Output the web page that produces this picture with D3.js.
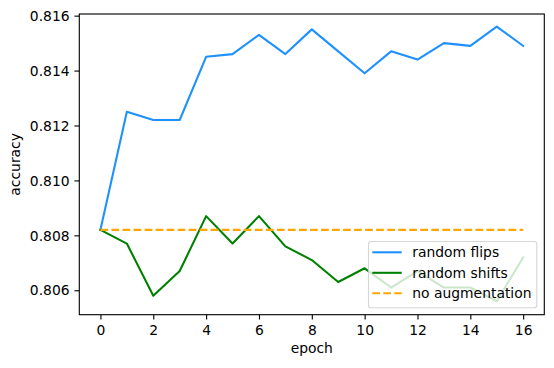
<!DOCTYPE html>
<html>
<head>
<meta charset="utf-8">
<script src="https://cdn.jsdelivr.net/npm/d3@7"></script>
<style>
  html, body { margin: 0; padding: 0; background: #fff; }
  svg { display: block; font-family: "DejaVu Sans", sans-serif; }
</style>
</head>
<body>
<svg id="chart" width="554" height="368"></svg>
<script>
const epochs = [0,1,2,3,4,5,6,7,8,9,10,11,12,13,14,15,16];
const randomFlips  = [0.8082,0.8125,0.8122,0.8122,0.8145,0.8146,0.8153,0.8146,0.8155,0.8147,0.8139,0.8147,0.8144,0.8150,0.8149,0.8156,0.8149];
const randomShifts = [0.8082,0.8077,0.8058,0.8067,0.8087,0.8077,0.8087,0.8076,0.8071,0.8063,0.8068,0.8061,0.8067,0.8061,0.8061,0.8056,0.8072];
const noAugmentation = [0.8082,0.8082,0.8082,0.8082,0.8082,0.8082,0.8082,0.8082,0.8082,0.8082,0.8082,0.8082,0.8082,0.8082,0.8082,0.8082,0.8082];
const xTicks = [0,2,4,6,8,10,12,14,16];
const yTicks = [0.806,0.808,0.810,0.812,0.814,0.816];
const seriesNames = ["random flips","random shifts","no augmentation"];
const seriesColors = ["#1E90FF","#008000","#FFA500"];

const svg = d3.select("#chart");
const L = 79.3, R = 544.3, T = 14, B = 314.7;
const fs = 13.89;

const x = d3.scaleLinear().domain([-0.8, 16.8]).range([L, R]);
const y = d3.scaleLinear().domain([0.80511, 0.81606]).range([B, T]);

const series = [randomFlips, randomShifts, noAugmentation];
const line = d3.line().x((d,i) => x(epochs[i])).y(d => y(d));

const g = svg.append("g");
series.forEach((s, k) => {
  g.append("path")
    .datum(s)
    .attr("d", line)
    .attr("fill", "none")
    .attr("stroke", seriesColors[k])
    .attr("stroke-width", 2.08)
    .attr("stroke-linejoin", "round")
    .attr("stroke-linecap", k === 2 ? "butt" : "square")
    .attr("stroke-dasharray", k === 2 ? "7.7,3.33" : null);
});

// Axes
const xAxis = d3.axisBottom(x).tickValues(xTicks).tickFormat(d3.format("d")).tickSize(4.86).tickPadding(4.86);
const yAxis = d3.axisLeft(y).tickValues(yTicks).tickFormat(d3.format(".3f")).tickSize(4.86).tickPadding(4.86);

const gx = svg.append("g").attr("transform", `translate(0,${B})`).call(xAxis);
const gy = svg.append("g").attr("transform", `translate(${L},0)`).call(yAxis);
[gx, gy].forEach(a => {
  a.select(".domain").remove();
  a.selectAll(".tick line").attr("stroke", "#000").attr("stroke-width", 1.11);
  a.selectAll(".tick text").attr("fill", "#000").style("font-size", fs + "px").style("font-family", "DejaVu Sans");
});
gx.selectAll(".tick text").attr("dy", null).attr("y", 20.3);
gy.selectAll(".tick text").attr("dy", "0.34em");

// Frame
svg.append("rect")
  .attr("x", L).attr("y", T).attr("width", R - L).attr("height", B - T)
  .attr("fill", "none").attr("stroke", "#000").attr("stroke-width", 1.11);

// Labels
svg.append("text").attr("x", (L + R) / 2).attr("y", 353).attr("text-anchor", "middle")
  .style("font-size", fs + "px").text("epoch");
svg.append("text").attr("transform", `translate(20,${(T + B) / 2}) rotate(-90)`).attr("text-anchor", "middle")
  .style("font-size", fs + "px").text("accuracy");

// Legend
const lg = svg.append("g");
const lx = 368.5, ly = 241.5, lw = 168.3, lh = 66.2;
lg.append("rect").attr("x", lx).attr("y", ly).attr("width", lw).attr("height", lh)
  .attr("rx", 2.8).attr("ry", 2.8)
  .attr("fill", "rgba(255,255,255,0.8)").attr("stroke", "rgba(204,204,204,0.8)").attr("stroke-width", 1.11);
seriesNames.forEach((name, k) => {
  const yy = 252.3 + k * 20.5;
  lg.append("line").attr("x1", 372.3).attr("x2", 401.7).attr("y1", yy).attr("y2", yy)
    .attr("stroke", seriesColors[k]).attr("stroke-width", 2.08)
    .attr("stroke-dasharray", k === 2 ? "7.7,3.33" : null);
  lg.append("text").attr("x", 412.3).attr("y", yy).attr("dy", "0.34em")
    .style("font-size", fs + "px").attr("fill", "#000").text(name);
});
</script>
</body>
</html>
